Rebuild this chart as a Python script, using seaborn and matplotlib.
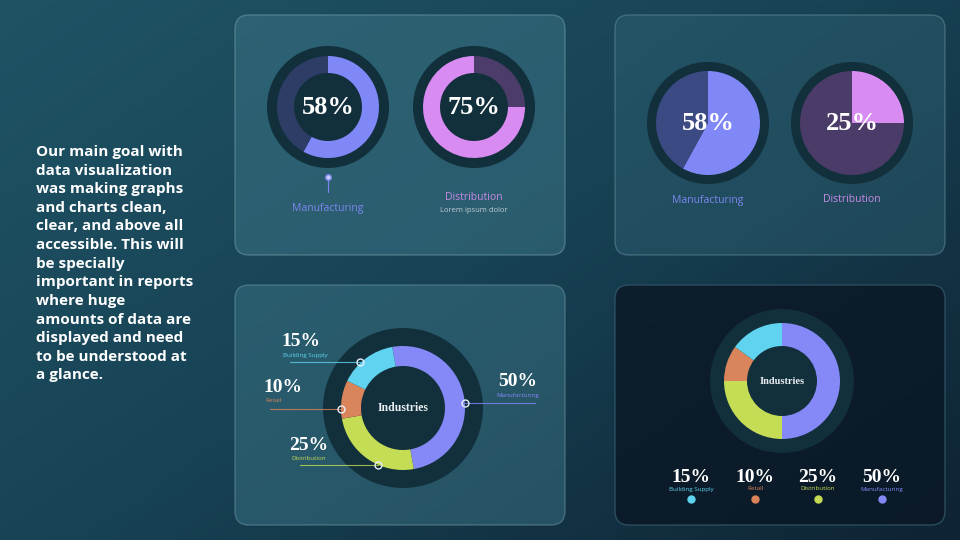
import numpy as np
import matplotlib
matplotlib.use("Agg")
import matplotlib.pyplot as plt
import seaborn as sns
from matplotlib.patches import FancyBboxPatch, Circle

sns.set_theme(style="white")
plt.rcParams['font.family'] = ['Open Sans', 'DejaVu Sans']

# --- data ---
gauge_labels = ['Manufacturing', 'Distribution']
gauge_values = [58, 75]
pie_values = [58, 25]
industries = ['Manufacturing', 'Distribution', 'Retail', 'Building Supply']
industry_share = [50, 25, 10, 15]
industry_colors = ['#8489f7', '#c5dd55', '#d9845a', '#5fd3ef']
intro = ("Our main goal with\ndata visualization\nwas making graphs\nand charts clean,\n"
         "clear, and above all\naccessible. This will\nbe specially\nimportant in reports\n"
         "where huge\namounts of data are\ndisplayed and need\nto be understood at\na glance.")

H = 540
def Y(y):
    return H - y

fig = plt.figure(figsize=(9.6, 5.4), dpi=100)
ax = fig.add_axes([0, 0, 1, 1])

# background gradient
gx, gy = np.meshgrid(np.linspace(0, 1, 200), np.linspace(0, 1, 120))
grad = 0.55 * gx + 0.45 * gy
bg = plt.matplotlib.colors.LinearSegmentedColormap.from_list('bg', ['#1f5465', '#174254', '#0e2333'])
ax.imshow(grad, cmap=bg, extent=[0, 960, 0, 540], origin='upper', zorder=0, aspect='auto')

def panel(x0, y0, w, h, fc, alpha, ec='#6f98a4'):
    p = FancyBboxPatch((x0, Y(y0 + h)), w, h, boxstyle="round,pad=0,rounding_size=14",
                       fc=fc, ec=ec, lw=1.0, alpha=alpha, zorder=1)
    ax.add_patch(p)

panel(235, 15, 330, 240, '#3a7384', 0.55)
panel(615, 15, 330, 240, '#2f6273', 0.45)
panel(235, 285, 330, 240, '#3a7384', 0.5)
panel(615, 285, 330, 240, '#0b1826', 0.85, ec='#2f5566')

ring = '#122f3c'
serif = 'Liberation Serif'

def donut(cx, cy, vals, cols, r, width, start, ccw, ringr):
    ax.add_patch(Circle((cx, Y(cy)), ringr, fc=ring, ec='none', zorder=2))
    wedges, _ = ax.pie(vals, colors=cols, radius=r, center=(cx, Y(cy)), startangle=start,
                       counterclock=ccw, wedgeprops=dict(width=width, edgecolor='none'), frame=True)
    for w in wedges:
        w.set_zorder(3)

# panel 1: gauges
v = gauge_values
donut(328, 107, [v[0], 100 - v[0]], ['#8088f8', '#2d3d66'], 51, 17, 90, False, 61)
donut(474, 107, [v[1], 100 - v[1]], ['#d88cf2', '#4c3c6a'], 51, 17, 90, True, 61)
ax.text(328, Y(107), f"{v[0]}%", ha='center', va='center', color='white', fontsize=19, family=serif, weight='bold', zorder=5)
ax.text(474, Y(107), f"{v[1]}%", ha='center', va='center', color='white', fontsize=19, family=serif, weight='bold', zorder=5)
ax.plot([328, 328], [Y(177), Y(192)], color='#7d86f0', lw=0.8, zorder=5)
ax.plot(328, Y(177), 'o', ms=4, mfc='#c8ccff', mec='#7d86f0', zorder=6)
ax.text(328, Y(209), gauge_labels[0], ha='center', va='center', color='#7d86f0', fontsize=7.5)
ax.text(474, Y(197), gauge_labels[1], ha='center', va='center', color='#c88ae8', fontsize=7.5)
ax.text(474, Y(210), 'Lorem ipsum dolor', ha='center', va='center', color='#c0ccd2', fontsize=5.5)

# panel 2: pies
p = pie_values
donut(708, 123, [p[0], 100 - p[0]], ['#8088f8', '#3c4a84'], 52, 52, 90, False, 61)
donut(852, 123, [p[1], 100 - p[1]], ['#d88cf2', '#4a3b68'], 52, 52, 90, False, 61)
ax.text(708, Y(124), f"{p[0]}%", ha='center', va='center', color='white', fontsize=19, family=serif, weight='bold', zorder=5)
ax.text(852, Y(124), f"{p[1]}%", ha='center', va='center', color='white', fontsize=19, family=serif, weight='bold', zorder=5)
ax.text(708, Y(200), gauge_labels[0], ha='center', va='center', color='#7d86f0', fontsize=7.5)
ax.text(852, Y(200), gauge_labels[1], ha='center', va='center', color='#c88ae8', fontsize=7.5)

# panel 3: industries donut with callouts
donut(403, 408, industry_share, industry_colors, 62, 20, 100, False, 80)
ax.add_patch(Circle((403, Y(408)), 42, fc=ring, ec='none', zorder=2.5))
ax.text(403, Y(408), 'Industries', ha='center', va='center', color='#e8eef0', fontsize=8.5, family=serif, weight='bold', zorder=5)
callouts = {  # label -> (pct x, pct y, line y, line x0, dot x)
    'Building Supply': (301, 342, 362, 290, 360),
    'Retail': (283, 388, 409, 270, 341),
    'Distribution': (309, 445, 465, 300, 378),
    'Manufacturing': (518, 382, 403, 535, 465),
}
for name, share, col in zip(industries, industry_share, industry_colors):
    px, py, ly, lx0, dx = callouts[name]
    ax.text(px, Y(py), f"{share}%", ha='center', va='center', color='white', fontsize=14, family=serif, weight='bold')
    nx = px - 18 if name != 'Manufacturing' else px
    ax.text(nx, Y(py + 13), name, ha='left' if name != 'Manufacturing' else 'center',
            va='center', color=col, fontsize=4.5)
    ax.plot([lx0, dx], [Y(ly), Y(ly)], color=col, lw=0.8, alpha=0.8, zorder=5)
    ax.plot(dx, Y(ly), 'o', ms=5, mfc='none', mec='#e8eef8', mew=1.0, zorder=6)

# panel 4: industries donut with legend row
donut(782, 381, industry_share, industry_colors, 58, 23, 90, False, 72)
ax.text(782, Y(381), 'Industries', ha='center', va='center', color='#e8eef0', fontsize=7.5, family=serif, weight='bold', zorder=5)
order = ['Building Supply', 'Retail', 'Distribution', 'Manufacturing']
xs = [691, 755, 818, 882]
for x, name in zip(xs, order):
    i = industries.index(name)
    ax.text(x, Y(478), f"{industry_share[i]}%", ha='center', va='center', color='white', fontsize=14, family=serif, weight='bold')
    ax.text(x, Y(489), name, ha='center', va='center', color=industry_colors[i], fontsize=4.5)
    ax.plot(x, Y(499), 'o', ms=5, color=industry_colors[i], zorder=6)

# intro text
ax.text(36, Y(145), intro, ha='left', va='top', color='white', fontsize=11, weight='bold', linespacing=1.42)

ax.set_xlim(0, 960)
ax.set_ylim(0, 540)
ax.set_aspect('auto')
ax.axis('off')
fig.savefig('out.png', dpi=100)
